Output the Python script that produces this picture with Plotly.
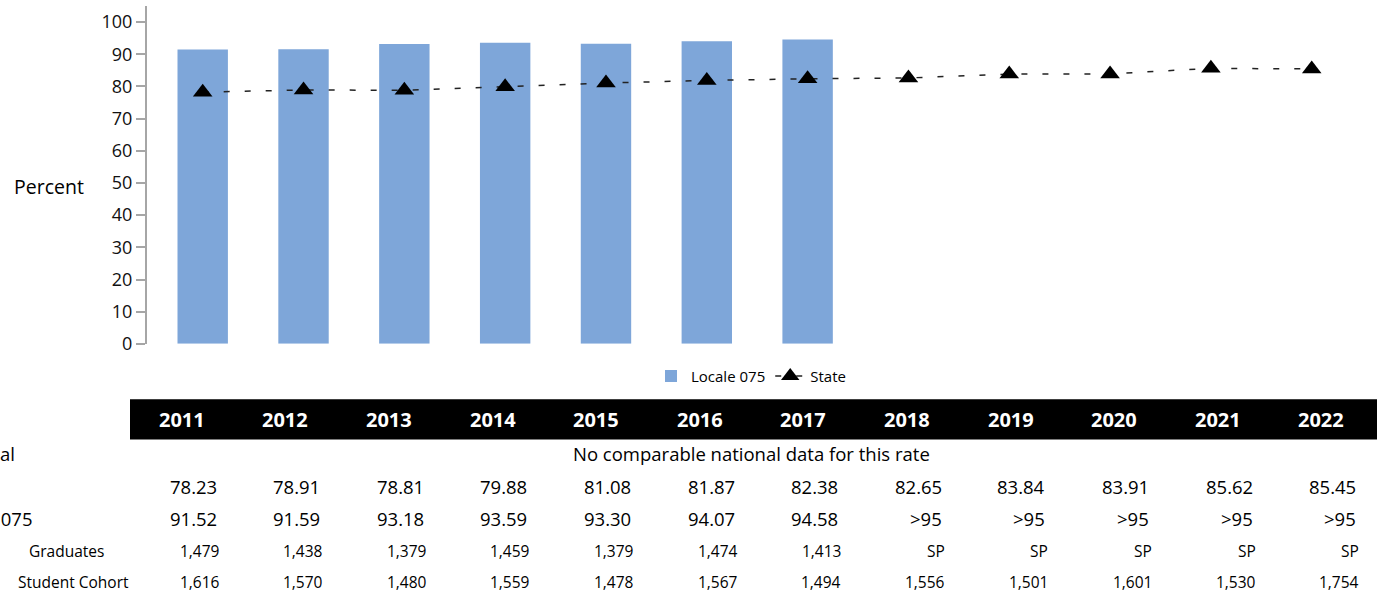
import plotly.graph_objects as go

# ---------------- data ----------------
years = ["2011", "2012", "2013", "2014", "2015", "2016", "2017",
         "2018", "2019", "2020", "2021", "2022"]
locale_years = ["2011", "2012", "2013", "2014", "2015", "2016", "2017"]
locale_rate = [91.52, 91.59, 93.18, 93.59, 93.30, 94.07, 94.58]
state_rate = [78.23, 78.91, 78.81, 79.88, 81.08, 81.87, 82.38,
              82.65, 83.84, 83.91, 85.62, 85.45]
locale_text = ["91.52", "91.59", "93.18", "93.59", "93.30", "94.07", "94.58",
               ">95", ">95", ">95", ">95", ">95"]
state_text = ["78.23", "78.91", "78.81", "79.88", "81.08", "81.87", "82.38",
              "82.65", "83.84", "83.91", "85.62", "85.45"]
graduates = ["1,479", "1,438", "1,379", "1,459", "1,379", "1,474", "1,413",
             "SP", "SP", "SP", "SP", "SP"]
cohort = ["1,616", "1,570", "1,480", "1,559", "1,478", "1,567", "1,494",
          "1,556", "1,501", "1,601", "1,530", "1,754"]
national_note = "No comparable national data for this rate"
row_labels = ["National", "State", "Locale 075", "Graduates", "Student Cohort"]

# ---------------- layout helpers ----------------
W, H = 1377, 593        # reference picture size (positions measured in it)
FIG_H = 606             # figure height (page capture is fitted to 593)
def px(x):
    return x / W
def py(y):
    return 1 - y / H

FONT = "Open Sans"

fig = go.Figure()
fig.add_trace(go.Bar(
    x=locale_years, y=locale_rate, name="Locale 075",
    marker=dict(color="#7EA6D9", line=dict(width=0)),
    width=0.5,
))
fig.add_trace(go.Scatter(
    x=years, y=state_rate, name="State", mode="lines+markers",
    line=dict(color="#222222", width=1.5, dash="6px,15px"),
    marker=dict(symbol="triangle-up", size=17, color="black"),
))

# plot geometry
x_left_px, y0_px, ytop_px = 146.7, 342.7, 6
c0_px, step_px = 202.7, 100.82
xr = [(x_left_px - c0_px) / step_px, (W - c0_px) / step_px]

fig.update_layout(
    width=W, height=FIG_H,
    margin=dict(l=0, r=0, t=0, b=0),
    paper_bgcolor="white", plot_bgcolor="white",
    font=dict(family=FONT, color="black"),
    showlegend=True,
    legend=dict(orientation="h", x=px(751), y=py(375), xanchor="center",
                yanchor="middle", font=dict(size=15, family=FONT),
                bgcolor="rgba(0,0,0,0)", itemwidth=30, tracegroupgap=0),
    xaxis=dict(domain=[px(x_left_px), 1], type="category",
               categoryorder="array", categoryarray=years,
               range=xr, showticklabels=False, showline=False,
               showgrid=False, zeroline=False, ticks=""),
    yaxis=dict(domain=[py(y0_px), py(ytop_px)], range=[0, 105],
               tickvals=[0, 10, 20, 30, 40, 50, 60, 70, 80, 90, 100],
               showline=True, linecolor="#A6A6A6", linewidth=1.5,
               ticks="outside", ticklen=9, tickcolor="#A6A6A6", tickwidth=1.5,
               showgrid=False, zeroline=False,
               tickfont=dict(size=18, family=FONT, color="#111111")),
)

annotations = []
shapes = []

# y-axis title
annotations.append(dict(text="Percent", x=px(48.5), y=py(186), xref="paper",
                        yref="paper", showarrow=False, xanchor="center",
                        yanchor="middle", font=dict(size=19.5, family=FONT)))

# table header
tbl_left, col_w = 130, 103.6
shapes.append(dict(type="rect", xref="paper", yref="paper",
                   x0=px(tbl_left), x1=1, y0=py(438), y1=py(398),
                   fillcolor="black", line=dict(width=0), layer="above"))
for i, yr in enumerate(years):
    cx = tbl_left + col_w * (i + 0.5)
    annotations.append(dict(text="<b>%s</b>" % yr, x=px(cx), y=py(418),
                            xref="paper", yref="paper", showarrow=False,
                            xanchor="center", yanchor="middle",
                            font=dict(size=20, family=FONT, color="white")))

# national row
annotations.append(dict(text=national_note, x=px(tbl_left + col_w * 6), y=py(452),
                        xref="paper", yref="paper", showarrow=False,
                        xanchor="center", yanchor="middle",
                        font=dict(size=18.5, family=FONT)))

row_y = [452, 485, 517, 549, 580]
big, small = 18.5, 15.5
for i in range(len(years)):
    right = tbl_left + col_w * (i + 1)
    for txt, yy, fs, off in [(state_text[i], row_y[1], big, 15),
                             (locale_text[i], row_y[2], big, 15),
                             (graduates[i], row_y[3], small, 12),
                             (cohort[i], row_y[4], small, 12)]:
        annotations.append(dict(text=txt, x=px(right - off), y=py(yy),
                                xref="paper", yref="paper", showarrow=False,
                                xanchor="right", yanchor="middle",
                                font=dict(size=fs, family=FONT)))

# row labels (partly cut off by the left edge, as in the source)
label_right = [17, -6, 35, 106, 131]
label_size = [big, big, big, small, small]
for lab, xr_, yy, fs in zip(row_labels, label_right, row_y, label_size):
    annotations.append(dict(text=lab, x=px(xr_), y=py(yy), xref="paper",
                            yref="paper", showarrow=False, xanchor="right",
                            yanchor="middle", font=dict(size=fs, family=FONT)))

fig.update_layout(annotations=annotations, shapes=shapes)

post = (
    "document.documentElement.style.margin='0';"
    "document.body.style.margin='0';"
    "document.body.style.padding='0';"
    "document.documentElement.style.overflowX='hidden';"
    "document.body.style.overflowX='hidden';"
)
fig.write_html("out.html", config={"displayModeBar": False}, post_script=post)
